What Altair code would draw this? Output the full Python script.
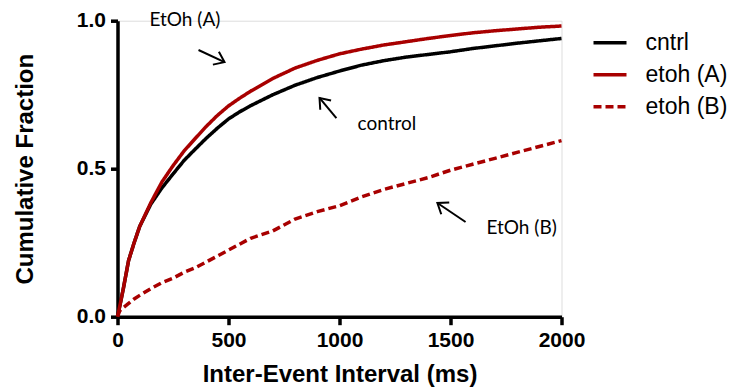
import altair as alt
import pandas as pd

# ---- data -------------------------------------------------------------
x_ms = [0, 10, 25, 50, 75, 100, 150, 200, 250, 300, 350, 400, 450, 500, 550,
        600, 700, 800, 900, 1000, 1100, 1200, 1300, 1400, 1500, 1600, 1700,
        1800, 1900, 2000]
cntrl = [0, 0.035, 0.09, 0.19, 0.25, 0.305, 0.38, 0.435, 0.482, 0.528, 0.566,
         0.603, 0.637, 0.668, 0.692, 0.713, 0.75, 0.782, 0.808, 0.83, 0.85,
         0.865, 0.877, 0.886, 0.895, 0.906, 0.915, 0.924, 0.932, 0.94]
etoh_a = [0, 0.035, 0.09, 0.19, 0.25, 0.305, 0.385, 0.455, 0.51, 0.56, 0.602,
          0.643, 0.68, 0.712, 0.738, 0.762, 0.805, 0.84, 0.866, 0.888, 0.904,
          0.918, 0.929, 0.94, 0.95, 0.959, 0.966, 0.972, 0.978, 0.982]
etoh_b = [0, 0.02, 0.03, 0.045, 0.06, 0.072, 0.095, 0.115, 0.13, 0.15, 0.165,
          0.185, 0.205, 0.225, 0.245, 0.265, 0.29, 0.33, 0.355, 0.375, 0.405,
          0.43, 0.45, 0.47, 0.495, 0.515, 0.535, 0.555, 0.575, 0.595]
series_names = ["cntrl", "etoh (A)", "etoh (B)"]
x_ticks = [0, 500, 1000, 1500, 2000]
y_ticks = [0, 0.5, 1.0]

# annotations (data units)
ann_text = ["EtOh (A)", "control", "EtOh (B)"]
ann_tx = [144, 1081, 1662]
ann_ty = [1.002, 0.651, 0.30]
arrow_x1 = [365, 986, 1568]
arrow_y1 = [0.901, 0.671, 0.320]
arrow_x2 = [482, 910, 1441]
arrow_y2 = [0.860, 0.739, 0.384]
arrow_angle = [24.8, 229.6, 214.2]

RED = "#a80000"

rows = []
for name, vals in zip(series_names, [cntrl, etoh_a, etoh_b]):
    for i, (x, y) in enumerate(zip(x_ms, vals)):
        rows.append({"series": name, "x": x, "y": y, "order": i})
df = pd.DataFrame(rows)

ann_df = pd.DataFrame({"text": ann_text, "tx": ann_tx, "ty": ann_ty})
arr_df = pd.DataFrame({"x1": arrow_x1, "y1": arrow_y1, "x2": arrow_x2,
                       "y2": arrow_y2, "angle": arrow_angle})

xscale = alt.Scale(domain=[0, 2000], nice=False)
yscale = alt.Scale(domain=[0, 1], nice=False)

x_axis = alt.Axis(values=x_ticks, format="d", title="Inter-Event Interval (ms)",
                  grid=False, domainWidth=3.5, domainColor="black",
                  tickWidth=3.5, tickColor="black", tickSize=8,
                  labelFont="Liberation Sans", labelFontWeight="bold",
                  labelFontSize=21, labelColor="black", labelPadding=5,
                  titleFont="Liberation Sans", titleFontWeight="bold",
                  titleFontSize=24, titleColor="black",
                  titleBaseline="alphabetic", titleY=65, labelFlush=False)
y_axis = alt.Axis(values=y_ticks, format=".1f", title="Cumulative Fraction",
                  grid=False, domainWidth=3.5, domainColor="black",
                  tickWidth=3.5, tickColor="black", tickSize=7,
                  labelFont="Liberation Sans", labelFontWeight="bold",
                  labelFontSize=21, labelColor="black", labelPadding=5,
                  titleFont="Liberation Sans", titleFontWeight="bold",
                  titleFontSize=24, titleColor="black",
                  titleBaseline="alphabetic", titleX=-85, labelFlush=False)

legend = alt.Legend(title=None, orient="none", legendX=474, legendY=3.5,
                    symbolType="stroke", symbolSize=1089,
                    symbolStrokeWidth=3.5, labelFont="Liberation Sans",
                    labelFontSize=23, labelColor="black",
                    labelOffset=17, rowPadding=1, padding=0)

lines = alt.Chart(df).mark_line(strokeWidth=3.5, clip=False).encode(
    x=alt.X("x:Q", scale=xscale, axis=x_axis),
    y=alt.Y("y:Q", scale=yscale, axis=y_axis),
    color=alt.Color("series:N",
                    scale=alt.Scale(domain=series_names,
                                    range=["black", RED, RED]),
                    legend=legend),
    strokeDash=alt.StrokeDash("series:N",
                              scale=alt.Scale(domain=series_names,
                                              range=[[1, 0], [1, 0], [8, 4]]),
                              legend=legend),
    order="order:Q",
    detail="series:N",
)

texts = alt.Chart(ann_df).mark_text(align="left", baseline="middle",
                                    font="Lato", fontSize=19,
                                    color="black").encode(
    x=alt.X("tx:Q", scale=xscale), y=alt.Y("ty:Q", scale=yscale),
    text="text:N")

shafts = alt.Chart(arr_df).mark_rule(strokeWidth=2, color="black").encode(
    x=alt.X("x1:Q", scale=xscale), y=alt.Y("y1:Q", scale=yscale),
    x2="x2:Q", y2="y2:Q")

heads = alt.Chart(arr_df).mark_point(
    shape="M-1,-0.75L0,0L-1,0.75", filled=False, strokeWidth=2,
    color="black", size=360, opacity=1).encode(
    x=alt.X("x2:Q", scale=xscale), y=alt.Y("y2:Q", scale=yscale),
    angle=alt.Angle("angle:Q", scale=None))

chart = alt.layer(lines, shafts, heads, texts).properties(
    width=444, height=296,
    padding={"left": 117.5, "top": 20.7, "right": 167.5, "bottom": 72.3},
    autosize="none",
).configure_view(stroke=None).configure(background="white")

chart.save("out.html", embed_options={"renderer": "svg", "actions": False})
